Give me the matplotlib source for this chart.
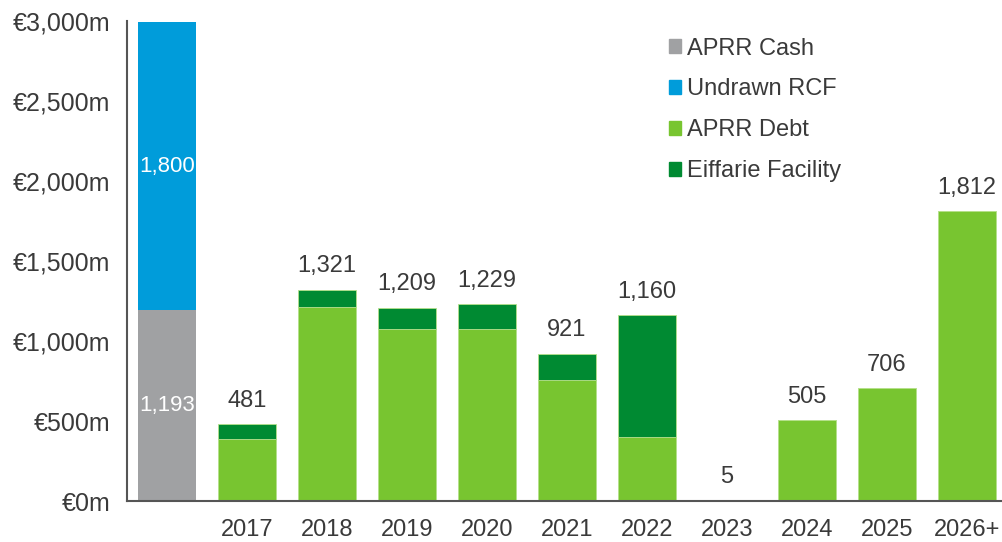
import numpy as np
import matplotlib
matplotlib.use("Agg")
import matplotlib.pyplot as plt
from matplotlib.patches import Patch
from matplotlib.ticker import FuncFormatter

plt.rcParams['font.family'] = ['Liberation Sans', 'DejaVu Sans']

categories = ["", "2017", "2018", "2019", "2020", "2021", "2022", "2023", "2024", "2025", "2026+"]
aprr_cash = [1193, 0, 0, 0, 0, 0, 0, 0, 0, 0, 0]
undrawn_rcf = [1800, 0, 0, 0, 0, 0, 0, 0, 0, 0, 0]
aprr_debt = [0, 387, 1211, 1078, 1078, 756, 398, 5, 505, 706, 1812]
eiffarie = [0, 94, 110, 131, 151, 165, 762, 0, 0, 0, 0]

c_cash = "#A0A1A3"
c_rcf = "#009CDA"
c_debt = "#78C530"
c_eiff = "#008A32"
txt = "#3A3A3A"
fs = 17

fig = plt.figure(figsize=(10.03, 5.42), dpi=100)
ax = fig.add_axes([0.1266, 0.0756, 0.8734, 0.8857])

x = np.arange(len(categories))
w = 0.72
ax.bar(x, aprr_cash, w, color=c_cash)
ax.bar(x, undrawn_rcf, w, bottom=aprr_cash, color=c_rcf)
ax.bar(x, aprr_debt, w, color=c_debt, edgecolor="#B5E08A", linewidth=0.6)
ax.bar(x, eiffarie, w, bottom=aprr_debt, color=c_eiff, edgecolor="#B5E08A", linewidth=0.6)

# labels inside the first bar
ax.text(0, aprr_cash[0] / 2, f"{aprr_cash[0]:,}", ha="center", va="center",
        color="white", fontsize=16)
ax.text(0, aprr_cash[0] + undrawn_rcf[0] / 2, f"{undrawn_rcf[0]:,}", ha="center",
        va="center", color="white", fontsize=16)

# totals above the maturity bars
for i in range(1, len(categories)):
    tot = aprr_debt[i] + eiffarie[i]
    ax.annotate(f"{tot:,}", (x[i], tot), xytext=(0, 9), textcoords="offset points",
                ha="center", va="bottom", color=txt, fontsize=fs)

ax.set_xlim(-0.5, 10.45)
ax.set_ylim(0, 3000)
ax.set_yticks(np.arange(0, 3001, 500))
ax.yaxis.set_major_formatter(FuncFormatter(lambda v, p: f"€{int(v):,}m"))
ax.set_xticks(x)
ax.set_xticklabels(categories)
ax.tick_params(axis="both", length=0, labelsize=fs, colors=txt)
ax.tick_params(axis="x", pad=13)
ax.tick_params(axis="y", pad=12)
for t in ax.get_yticklabels():
    t.set_fontsize(18)

for s in ["top", "right"]:
    ax.spines[s].set_visible(False)
for s in ["left", "bottom"]:
    ax.spines[s].set_color("#555555")
    ax.spines[s].set_linewidth(1.5)

handles = [Patch(color=c_cash), Patch(color=c_rcf), Patch(color=c_debt), Patch(color=c_eiff)]
labels = ["APRR Cash", "Undrawn RCF", "APRR Debt", "Eiffarie Facility"]
leg = ax.legend(handles, labels, loc="upper left", bbox_to_anchor=(0.6, 1.0),
                frameon=False, fontsize=fs, handlelength=0.5, handleheight=0.5,
                handletextpad=0.25, labelspacing=0.8, borderaxespad=0.3)
for t in leg.get_texts():
    t.set_color(txt)

fig.savefig("out.png", dpi=100)
